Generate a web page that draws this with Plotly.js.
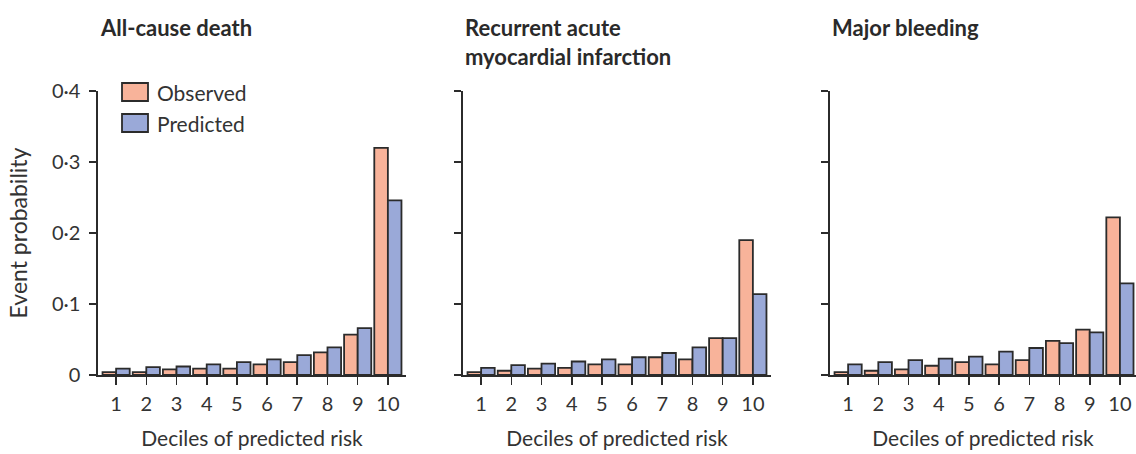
<!DOCTYPE html>
<html>
<head>
<meta charset="utf-8">
<script src="https://cdn.plot.ly/plotly-3.0.1.min.js"></script>
<style>html,body{margin:0;padding:0;background:#fff;}#chart{width:1136px;height:454px;}</style>
</head>
<body>
<div id="chart"></div>
<script>
// ---- data ----
const deciles = [1, 2, 3, 4, 5, 6, 7, 8, 9, 10];
const panelTitles = ["All-cause death", "Recurrent acute<br>myocardial infarction", "Major bleeding"];
const seriesNames = ["Observed", "Predicted"];

const deathObserved  = [0.004, 0.004, 0.008, 0.009, 0.009, 0.015, 0.018, 0.032, 0.057, 0.320];
const deathPredicted = [0.009, 0.011, 0.012, 0.015, 0.018, 0.022, 0.028, 0.039, 0.066, 0.246];

const amiObserved  = [0.004, 0.006, 0.009, 0.010, 0.015, 0.015, 0.025, 0.022, 0.052, 0.190];
const amiPredicted = [0.010, 0.014, 0.016, 0.019, 0.022, 0.025, 0.031, 0.039, 0.052, 0.114];

const bleedObserved  = [0.004, 0.006, 0.008, 0.013, 0.018, 0.015, 0.021, 0.048, 0.064, 0.222];
const bleedPredicted = [0.015, 0.018, 0.021, 0.023, 0.026, 0.033, 0.038, 0.045, 0.060, 0.129];

const yTickVals = [0, 0.1, 0.2, 0.3, 0.4];
const yTickText = ["0", "0·1", "0·2", "0·3", "0·4"];

// ---- styling ----
const W = 1136, H = 454;
const FONT = "Lato, 'Open Sans', sans-serif";
const TXT = "#333333";
const obsColor = "#f8b39a";
const predColor = "#9aa9d8";
const edge = "#2b2b2b";
const px = v => v / W;
const py = v => (H - v) / H;

const panels = [
  {obs: deathObserved, pred: deathPredicted, x0: 98,  x1: 406},
  {obs: amiObserved,   pred: amiPredicted,   x0: 463, x1: 771},
  {obs: bleedObserved, pred: bleedPredicted, x0: 830, x1: 1136}
];

const traces = [];
const layout = {
  width: W, height: H,
  margin: {l: 0, r: 0, t: 0, b: 0},
  paper_bgcolor: "#fff", plot_bgcolor: "#fff",
  barmode: "group", bargap: 0.1, bargroupgap: 0,
  showlegend: false,
  font: {family: FONT, size: 18, color: TXT},
  annotations: [], shapes: []
};

panels.forEach((p, i) => {
  const n = i === 0 ? "" : String(i + 1);
  const xa = "x" + n, ya = "y" + n;
  traces.push({
    type: "bar", name: seriesNames[0], x: deciles, y: p.obs,
    xaxis: xa, yaxis: ya, offsetgroup: "obs",
    marker: {color: obsColor, line: {color: edge, width: 1.8}},
    hoverinfo: "x+y+name"
  });
  traces.push({
    type: "bar", name: seriesNames[1], x: deciles, y: p.pred,
    xaxis: xa, yaxis: ya, offsetgroup: "pred",
    marker: {color: predColor, line: {color: edge, width: 1.8}},
    hoverinfo: "x+y+name"
  });
  const range = i === 2 ? [0.4, 0.4 + (p.x1 - p.x0) / 30.2] : [0.4, 10.6];
  layout["xaxis" + n] = {
    domain: [px(p.x0), px(p.x1)], range: range, anchor: ya,
    tickmode: "array", tickvals: deciles, ticktext: deciles.map(String),
    ticks: "outside", ticklen: 8, tickwidth: 1.6, tickcolor: edge,
    showline: true, linecolor: edge, linewidth: 1.6,
    showgrid: false, zeroline: false,
    tickfont: {family: FONT, size: 20, color: TXT},
    ticklabelstandoff: 2,
    title: {text: "Deciles of predicted risk", font: {family: FONT, size: 21, color: TXT}, standoff: 18}
  };
  layout["yaxis" + n] = {
    domain: [py(375), py(91)], range: [0, 0.4], anchor: xa,
    tickmode: "array", tickvals: yTickVals,
    ticktext: i === 0 ? yTickText : yTickVals.map(() => ""),
    ticks: "outside", ticklen: 7, tickwidth: 1.6, tickcolor: edge,
    showline: true, linecolor: edge, linewidth: 1.6,
    showgrid: false, zeroline: false,
    tickfont: {family: FONT, size: 20, color: TXT},
    ticklabelstandoff: 5,
    title: i === 0 ? {text: "Event probability", font: {family: FONT, size: 23, color: TXT}, standoff: 18} : {text: ""}
  };
  layout.annotations.push({
    xref: "paper", yref: "paper", x: px(p.x0), y: py(12),
    xanchor: "left", yanchor: "top", align: "left", showarrow: false,
    text: "<b>" + panelTitles[i] + "</b>",
    font: {family: FONT, size: 22, color: "#2a2a2a"}
  });
});

// legend (drawn in the first panel)
const legendItems = [
  {name: seriesNames[0], color: obsColor, top: 83},
  {name: seriesNames[1], color: predColor, top: 114}
];
legendItems.forEach(it => {
  layout.shapes.push({
    type: "rect", xref: "paper", yref: "paper",
    x0: px(122), x1: px(148), y0: py(it.top), y1: py(it.top + 18),
    fillcolor: it.color, line: {color: edge, width: 1.8}
  });
  layout.annotations.push({
    xref: "paper", yref: "paper", x: px(155), y: py(it.top + 9),
    xanchor: "left", yanchor: "middle", showarrow: false,
    text: it.name, font: {family: FONT, size: 21, color: TXT}
  });
});

Plotly.newPlot("chart", traces, layout, {displayModeBar: false, staticPlot: true});
</script>
</body>
</html>
